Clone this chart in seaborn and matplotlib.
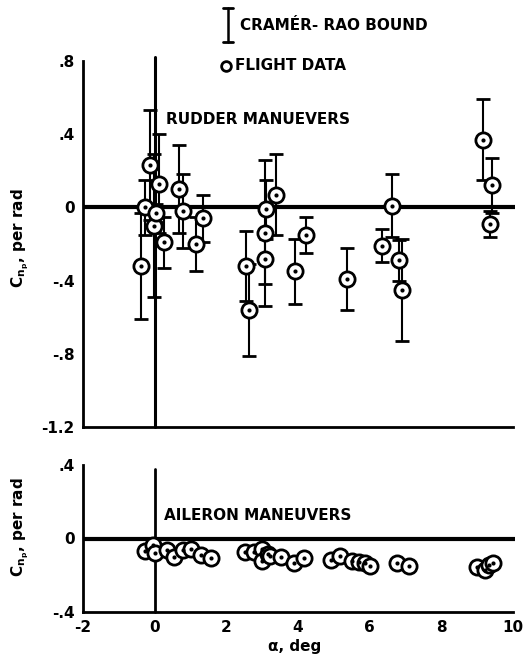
import matplotlib
matplotlib.use("Agg")
import matplotlib.pyplot as plt
import seaborn as sns
import pandas as pd
from matplotlib.lines import Line2D

sns.set_style("white")
plt.rcParams["font.family"] = ["DejaVu Sans"]
plt.rcParams["font.weight"] = "bold"
plt.rcParams["text.color"] = "black"
plt.rcParams["axes.labelcolor"] = "black"
plt.rcParams["mathtext.fontset"] = "custom"
plt.rcParams["mathtext.rm"] = "DejaVu Sans:bold"
plt.rcParams["mathtext.it"] = "DejaVu Sans:bold"

# Rudder maneuvers: angle of attack, estimate and Cramer-Rao bound
alpha_rudder = [-0.38, -0.27, -0.13, -0.02, 0.04, 0.13, 0.27, 0.69, 0.79, 1.16,
                1.36, 2.54, 2.63, 3.07, 3.09, 3.11, 3.39, 3.90, 4.23, 5.35,
                6.33, 6.63, 6.81, 6.91, 9.15, 9.35, 9.42]
cnp_rudder = [-0.32, 0.00, 0.23, -0.10, -0.03, 0.13, -0.19, 0.10, -0.02, -0.20,
              -0.06, -0.32, -0.56, -0.14, -0.28, -0.01, 0.07, -0.35, -0.15, -0.39,
              -0.21, 0.01, -0.29, -0.45, 0.37, -0.09, 0.12]
crb_rudder = [0.29, 0.15, 0.30, 0.39, 0.05, 0.27, 0.14, 0.24, 0.20, 0.15,
              0.13, 0.19, 0.25, 0.40, 0.14, 0.16, 0.22, 0.18, 0.10, 0.17,
              0.09, 0.17, 0.11, 0.28, 0.22, 0.07, 0.15]

# Aileron maneuvers
alpha_aileron = [-0.28, -0.05, 0.02, 0.35, 0.53, 0.79, 1.00, 1.30, 1.58, 2.51,
                 2.76, 2.98, 2.98, 3.16, 3.21, 3.53, 3.88, 4.16, 4.93, 5.18,
                 5.49, 5.69, 5.86, 6.00, 6.76, 7.10, 8.98, 9.21, 9.32, 9.44]
cnp_aileron = [-0.068, -0.036, -0.078, -0.060, -0.100, -0.064, -0.058, -0.091, -0.104, -0.073,
               -0.073, -0.055, -0.122, -0.086, -0.096, -0.100, -0.133, -0.104, -0.118, -0.097,
               -0.122, -0.127, -0.136, -0.151, -0.136, -0.149, -0.155, -0.169, -0.145, -0.136]

x_ticks = [-2, 0, 2, 4, 6, 8, 10]
x_tick_labels = ["-2", "0", "2", "4", "6", "8", "10"]
top_y_ticks = [0.8, 0.4, 0.0, -0.4, -0.8, -1.2]
top_y_labels = [".8", ".4", "0", "-.4", "-.8", "-1.2"]
bot_y_ticks = [0.4, 0.0, -0.4]
bot_y_labels = [".4", "0", "-.4"]

rudder = pd.DataFrame({"alpha": alpha_rudder, "cnp": cnp_rudder, "crb": crb_rudder})
aileron = pd.DataFrame({"alpha": alpha_aileron, "cnp": cnp_aileron})

W, H = 528, 656
fig = plt.figure(figsize=(W / 100, H / 100), dpi=100)
ax1 = fig.add_axes([83 / W, 1 - 427 / H, 432 / W, 366 / H])
ax2 = fig.add_axes([83 / W, 1 - 612 / H, 432 / W, 147 / H])

lw_axis = 2.0
for ax, (lo, hi), yt, yl in [(ax1, (-1.2, 0.8), top_y_ticks, top_y_labels),
                             (ax2, (-0.4, 0.4), bot_y_ticks, bot_y_labels)]:
    ax.set_xlim(-2, 10.05)
    ax.set_ylim(lo, hi)
    ax.set_facecolor("white")
    for s in ["top", "right"]:
        ax.spines[s].set_visible(False)
    for s in ["left", "bottom"]:
        ax.spines[s].set_linewidth(lw_axis)
        ax.spines[s].set_color("black")
    ax.spines["bottom"].set_bounds(-2, 10)
    ax.set_yticks(yt)
    ax.set_yticklabels(yl)
    ax.set_xticks(x_ticks)
    ax.tick_params(axis="both", direction="in", length=6, width=1.8,
                   labelsize=11, colors="black", labelcolor="black", pad=6)
    ax.axhline(0, color="black", lw=3, xmin=0, xmax=1, zorder=1)

ax1.set_xticklabels([])
ax2.set_xticklabels(x_tick_labels, fontsize=11, fontweight="bold")
for lab in ax1.get_yticklabels() + ax2.get_yticklabels() + ax2.get_xticklabels():
    lab.set_fontweight("bold")
    lab.set_color("black")

# zero-alpha reference lines
ax1.plot([0, 0], [-1.2, 0.82], color="black", lw=2.2, zorder=1, clip_on=False)
ax2.plot([0, 0], [-0.4, 0.38], color="black", lw=2.0, zorder=1, clip_on=False)

# Cramer-Rao bounds
ax1.errorbar(rudder["alpha"], rudder["cnp"], yerr=rudder["crb"], fmt="none",
             ecolor="black", elinewidth=1.5, capsize=5, capthick=2, zorder=2)

mk = dict(marker="o", s=120, facecolor="white", edgecolor="black",
          linewidth=2.0, zorder=3, legend=False)
dot = dict(marker="o", s=9, color="black", linewidth=0, zorder=4, legend=False)
sns.scatterplot(data=rudder, x="alpha", y="cnp", ax=ax1, **mk)
sns.scatterplot(data=rudder, x="alpha", y="cnp", ax=ax1, **dot)
sns.scatterplot(data=aileron, x="alpha", y="cnp", ax=ax2, **mk)
sns.scatterplot(data=aileron, x="alpha", y="cnp", ax=ax2, **dot)

for ax in (ax1, ax2):
    ax.set_xlabel("")
    ax.set_ylabel("")

ax1.text(0.32, 0.48, "RUDDER MANUEVERS", fontsize=11, fontweight="bold",
         va="center", ha="left", color="black")
ax2.text(0.27, 0.127, "AILERON MANEUVERS", fontsize=11, fontweight="bold",
         va="center", ha="left", color="black")

ylab = r"$\mathregular{C_{n_p}}$, per rad"
fig.text(20 / W, 1 - 238 / H, ylab, rotation=90, ha="center", va="center",
         fontsize=11, fontweight="bold", color="black")
fig.text(20 / W, 1 - 527 / H, ylab, rotation=90, ha="center", va="center",
         fontsize=11, fontweight="bold", color="black")
fig.text(295 / W, 1 - 647 / H, "α, deg", ha="center", va="center",
         fontsize=11, fontweight="bold", color="black")

# key
xk = 228 / W
fig.add_artist(Line2D([xk, xk], [1 - 8 / H, 1 - 42 / H], color="black", lw=1.8))
for yy in (8, 42):
    fig.add_artist(Line2D([xk - 5 / W, xk + 5 / W], [1 - yy / H, 1 - yy / H],
                          color="black", lw=2))
fig.text(240 / W, 1 - 26 / H, "CRAMÉR- RAO BOUND", ha="left", va="center",
         fontsize=11, fontweight="bold", color="black")
fig.add_artist(Line2D([226 / W], [1 - 66 / H], marker="o", markersize=7,
                      markerfacecolor="white", markeredgecolor="black",
                      markeredgewidth=2, linestyle="none"))
fig.text(235 / W, 1 - 66 / H, "FLIGHT DATA", ha="left", va="center",
         fontsize=11, fontweight="bold", color="black")

fig.savefig("out.png", dpi=100, facecolor="white")
